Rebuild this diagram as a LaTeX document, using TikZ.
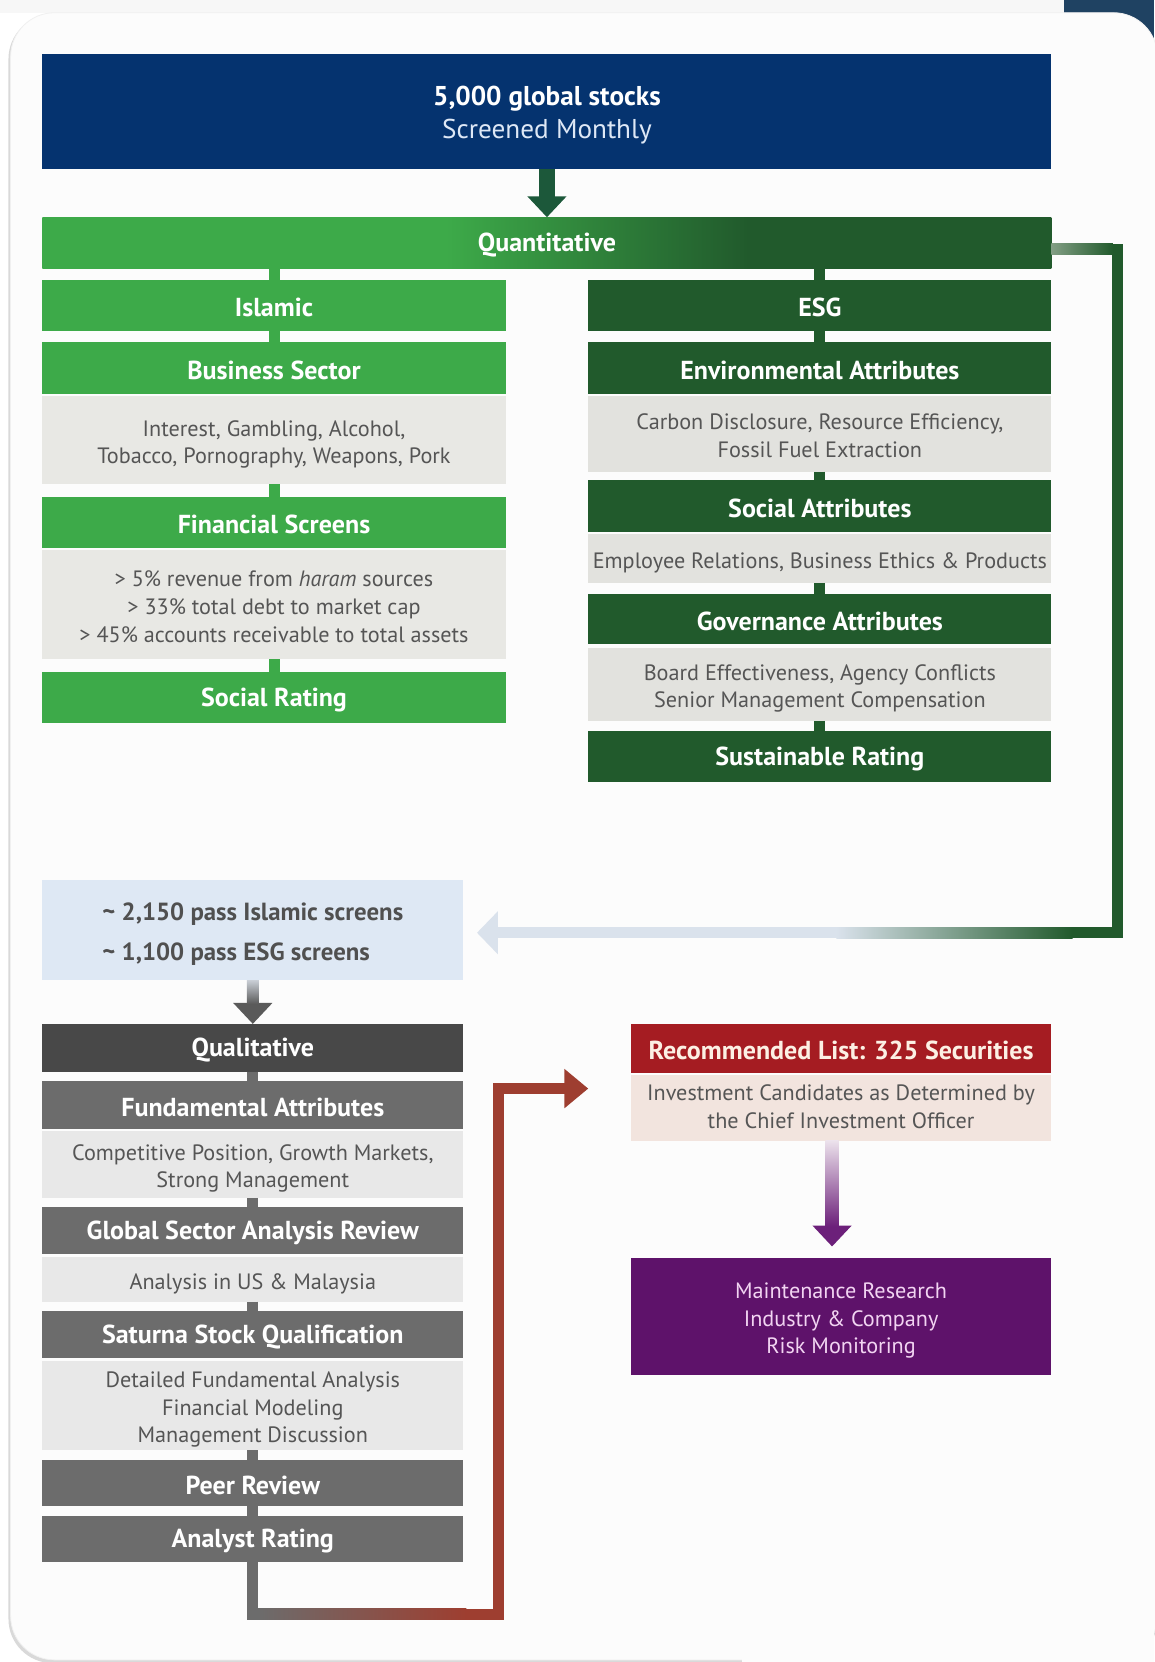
\documentclass[tikz,border=0pt]{standalone}
\usepackage{fontspec}
\setmainfont{PT Sans}
\usetikzlibrary{arrows.meta,calc}
\definecolor{navyTop}{RGB}{5,51,111}
\definecolor{cornerNavy}{RGB}{31,66,98}
\definecolor{gA}{RGB}{61,170,73}
\definecolor{gD}{RGB}{33,90,44}
\definecolor{arrTop}{RGB}{28,88,58}
\definecolor{txtbg}{RGB}{232,232,228}
\definecolor{txtbgE}{RGB}{226,226,222}
\definecolor{txtgray}{RGB}{85,85,85}
\definecolor{qualD}{RGB}{72,72,72}
\definecolor{qualM}{RGB}{108,108,108}
\definecolor{qtxtbg}{RGB}{232,232,232}
\definecolor{redH}{RGB}{165,28,34}
\definecolor{recTxt}{RGB}{252,240,228}
\definecolor{pinkbg}{RGB}{242,228,222}
\definecolor{purpleB}{RGB}{94,18,106}
\definecolor{purpleT}{RGB}{242,212,242}
\definecolor{purpleL}{RGB}{236,226,236}
\definecolor{purpleA}{RGB}{108,32,122}
\definecolor{passbg}{RGB}{222,232,244}
\definecolor{passtxt}{RGB}{80,80,80}
\definecolor{passArr}{RGB}{218,226,236}
\definecolor{redC}{RGB}{158,62,48}
\definecolor{greyL}{RGB}{200,205,212}
\definecolor{greenL}{RGB}{130,158,132}
\definecolor{subBlue}{RGB}{222,232,246}
\pgfdeclarehorizontalshading{quantsh}{100bp}{color(0bp)=(gA); color(45bp)=(gA); color(60bp)=(gD); color(100bp)=(gD)}
\newcommand\lowtxt[2][2.1pt]{\raisebox{-#1}[\height][\depth]{\begin{tabular}{@{}c@{}}#2\end{tabular}}}
\begin{document}
\begin{tikzpicture}[x=0.52985pt,y=-0.52985pt]
\tikzset{
  span/.code args={#1/#2/#3/#4}{%
    \pgfmathsetmacro\spw{(#3-#1)*0.52985}%
    \pgfmathsetmacro\sph{(#4-#2)*0.52985}%
    \pgfmathsetmacro\spx{(#1+#3)/2}%
    \pgfmathsetmacro\spy{(#2+#4)/2}%
    \edef\sptmp{\noexpand\pgfkeysalso{minimum width=\spw pt, minimum height=\sph pt, at={(\spx,\spy)}}}%
    \sptmp},
  cell/.style={inner sep=0pt, outer sep=0pt, align=center},
  hbox/.style={cell, font=\bfseries\fontsize{13}{15}\selectfont, text=white,
    execute at begin node={\rule{0pt}{11.4pt}}},
  tbox/.style={cell, fill=txtbg, text=txtgray, font=\fontsize{11.1}{13.8}\selectfont},
  sbox/.style={tbox, execute at begin node={\rule{0pt}{12.4pt}}},
  link/.style={line width=5.5pt},
}
\useasboundingbox (0,0) rectangle (1089,1568);
% background / panel
\fill[white] (0,0) rectangle (1089,1568);
\fill[black!3] (0,0) rectangle (1089,12);
\fill[cornerNavy] (1004,0) rectangle (1089,80);
\fill[black!15, rounded corners=22pt] (8,14) rectangle (1092,1569);
\fill[white!99!black, draw=black!6, rounded corners=22pt] (10,12) rectangle (1092,1566);
\fill[white!99!black] (700,1400) rectangle (1089,1568);

% top
\node[cell, span=40/51/992/159, fill=navyTop, text=white, font=\fontsize{13.6}{16.5}\selectfont] (top)
  {\lowtxt{\textbf{5,000 global stocks}\\\textcolor{subBlue}{Screened Monthly}}};
\node[hbox, span=40/205/992/253, shade, shading=quantsh] (quant) {Quantitative};

% Islamic column
\node[hbox, span=40/264/477/312, fill=gA] (isl) {Islamic};
\node[hbox, span=40/323/477/372, fill=gA] (bus) {Business Sector};
\node[tbox, span=40/374/477/457] (bustxt) {\lowtxt{Interest, Gambling, Alcohol,\\Tobacco, Pornography, Weapons, Pork}};
\node[hbox, span=40/469/477/517, fill=gA] (fin) {Financial Screens};
\node[tbox, span=40/519/477/622] (fintxt) {\lowtxt{> 5\% revenue from \textit{haram} sources\\> 33\% total debt to market cap\\> 45\% accounts receivable to total assets}};
\node[hbox, span=40/634/477/682, fill=gA] (socr) {Social Rating};

% ESG column
\node[hbox, span=555/264/992/312, fill=gD] (esg) {ESG};
\node[hbox, span=555/323/992/372, fill=gD] (env) {Environmental Attributes};
\node[tbox, span=555/374/992/445, fill=txtbgE] (envtxt) {\lowtxt{Carbon Disclosure, Resource Efficiency,\\Fossil Fuel Extraction}};
\node[hbox, span=555/453/992/502, fill=gD] (soc) {Social Attributes};
\node[sbox, span=555/504/992/550, fill=txtbgE] (soctxt) {Employee Relations, Business Ethics \& Products};
\node[hbox, span=555/560/992/608, fill=gD] (gov) {Governance Attributes};
\node[tbox, span=555/611/992/680, fill=txtbgE] (govtxt) {\lowtxt{Board Effectiveness, Agency Conflicts\\Senior Management Compensation}};
\node[hbox, span=555/690/992/738, fill=gD] (sust) {Sustainable Rating};

% pass box
\node[cell, span=40/830/437/925, fill=passbg, text=passtxt, font=\bfseries\fontsize{12.4}{20}\selectfont] (pass)
  {\raisebox{-1pt}[\height][\depth]{\begin{tabular}{@{}l@{}}\textasciitilde\ 2,150 pass Islamic screens\\\textasciitilde\ 1,100 pass ESG screens\end{tabular}}};

% Qualitative column
\node[hbox, span=40/966/437/1011, fill=qualD] (qual) {Qualitative};
\node[hbox, span=40/1020/437/1065, fill=qualM] (fund) {Fundamental Attributes};
\node[tbox, span=40/1067/437/1130, fill=qtxtbg] (fundtxt) {\lowtxt{Competitive Position, Growth Markets,\\Strong Management}};
\node[hbox, span=40/1139/437/1183, fill=qualM] (gsar) {Global Sector Analysis Review};
\node[sbox, span=40/1186/437/1228, fill=qtxtbg] (gsartxt) {Analysis in US \& Malaysia};
\node[hbox, span=40/1237/437/1281, fill=qualM] (ssq) {Saturna Stock Qualification};
\node[tbox, span=40/1284/437/1368, fill=qtxtbg] (ssqtxt) {\lowtxt{Detailed Fundamental Analysis\\Financial Modeling\\Management Discussion}};
\node[hbox, span=40/1377/437/1421, fill=qualM] (peer) {Peer Review};
\node[hbox, span=40/1430/437/1474, fill=qualM] (analyst) {Analyst Rating};

% Recommended
\node[hbox, span=595/966/992/1012, fill=redH, text=recTxt] (rec) {Recommended List: 325 Securities};
\node[tbox, span=595/1014/992/1076, fill=pinkbg] (rectxt) {\lowtxt[0.6pt]{Investment Candidates as Determined by\\the Chief Investment Officer}};
\node[tbox, span=595/1187/992/1297, fill=purpleB, text=purpleT, font=\fontsize{11.1}{13.6}\selectfont] (maint)
  {\lowtxt{Maintenance Research\\Industry \& Company\\Risk Monitoring}};

% small joining links
\draw[link, gA] (quant.south -| isl.north) -- (isl.north);
\draw[link, gA] (isl.south) -- (bus.north);
\draw[link, gA] (bustxt.south) -- (fin.north);
\draw[link, gA] (fintxt.south) -- (socr.north);
\draw[link, gD] (quant.south -| esg.north) -- (esg.north);
\draw[link, gD] (esg.south) -- (env.north);
\draw[link, gD] (envtxt.south) -- (soc.north);
\draw[link, gD] (soctxt.south) -- (gov.north);
\draw[link, gD] (govtxt.south) -- (sust.north);
\draw[link, qualM] (qual.south) -- (fund.north);
\draw[link, qualM] (fundtxt.south) -- (gsar.north);
\draw[link, qualM] (gsartxt.south) -- (ssq.north);
\draw[link, qualM] (ssqtxt.south) -- (peer.north);
\draw[link, qualM] (peer.south) -- (analyst.north);

% top arrow
\draw[line width=8pt, arrTop, -{Triangle[width=19pt,length=10.5pt]}] (top.south) -- (quant.north);

% right loop: quantitative -> pass box
\coordinate (r0) at (992,235);
\coordinate (r2) at (1054,880);
\coordinate (r3) at (450,880);
\draw[link, gD, -{Triangle[width=21pt,length=10.5pt,color=passArr]}] (r0) -| (r2) -- (r3);
\shade[left color=greenL, right color=gD] (992,229.8) rectangle (1050,240.2);
\fill[passArr] (467,874.8) rectangle (790,885.2);
\shade[left color=passArr, right color=gD] (789,874.8) rectangle (1012,885.2);

% pass -> qualitative
\draw[line width=6pt, qualD!90, -{Triangle[width=19pt,length=10.5pt]}] (pass.south) -- (qual.north);
\shade[top color=greyL, bottom color=qualD!90] (232.8,925) rectangle (244.2,947);

% analyst -> recommended
\coordinate (b2) at (470,1523);
\coordinate (b4) at (555,1027);
\draw[link, redC, -{Triangle[width=19pt,length=12pt]}] (analyst.south) |- (b2) |- (b4);
\fill[qualM] (233.3,1474) rectangle (243.7,1528.2);
\shade[left color=qualM, right color=redC] (243,1517.8) rectangle (440,1528.2);

% recommended -> maintenance
\coordinate (pe) at (785,1176);
\draw[line width=6.5pt, purpleA, -{Triangle[width=19pt,length=10.5pt]}] (rectxt.south -| pe) -- (pe);
\shade[top color=purpleL, bottom color=purpleA] (778.9,1076) rectangle (791.1,1157);
\end{tikzpicture}
\end{document}
